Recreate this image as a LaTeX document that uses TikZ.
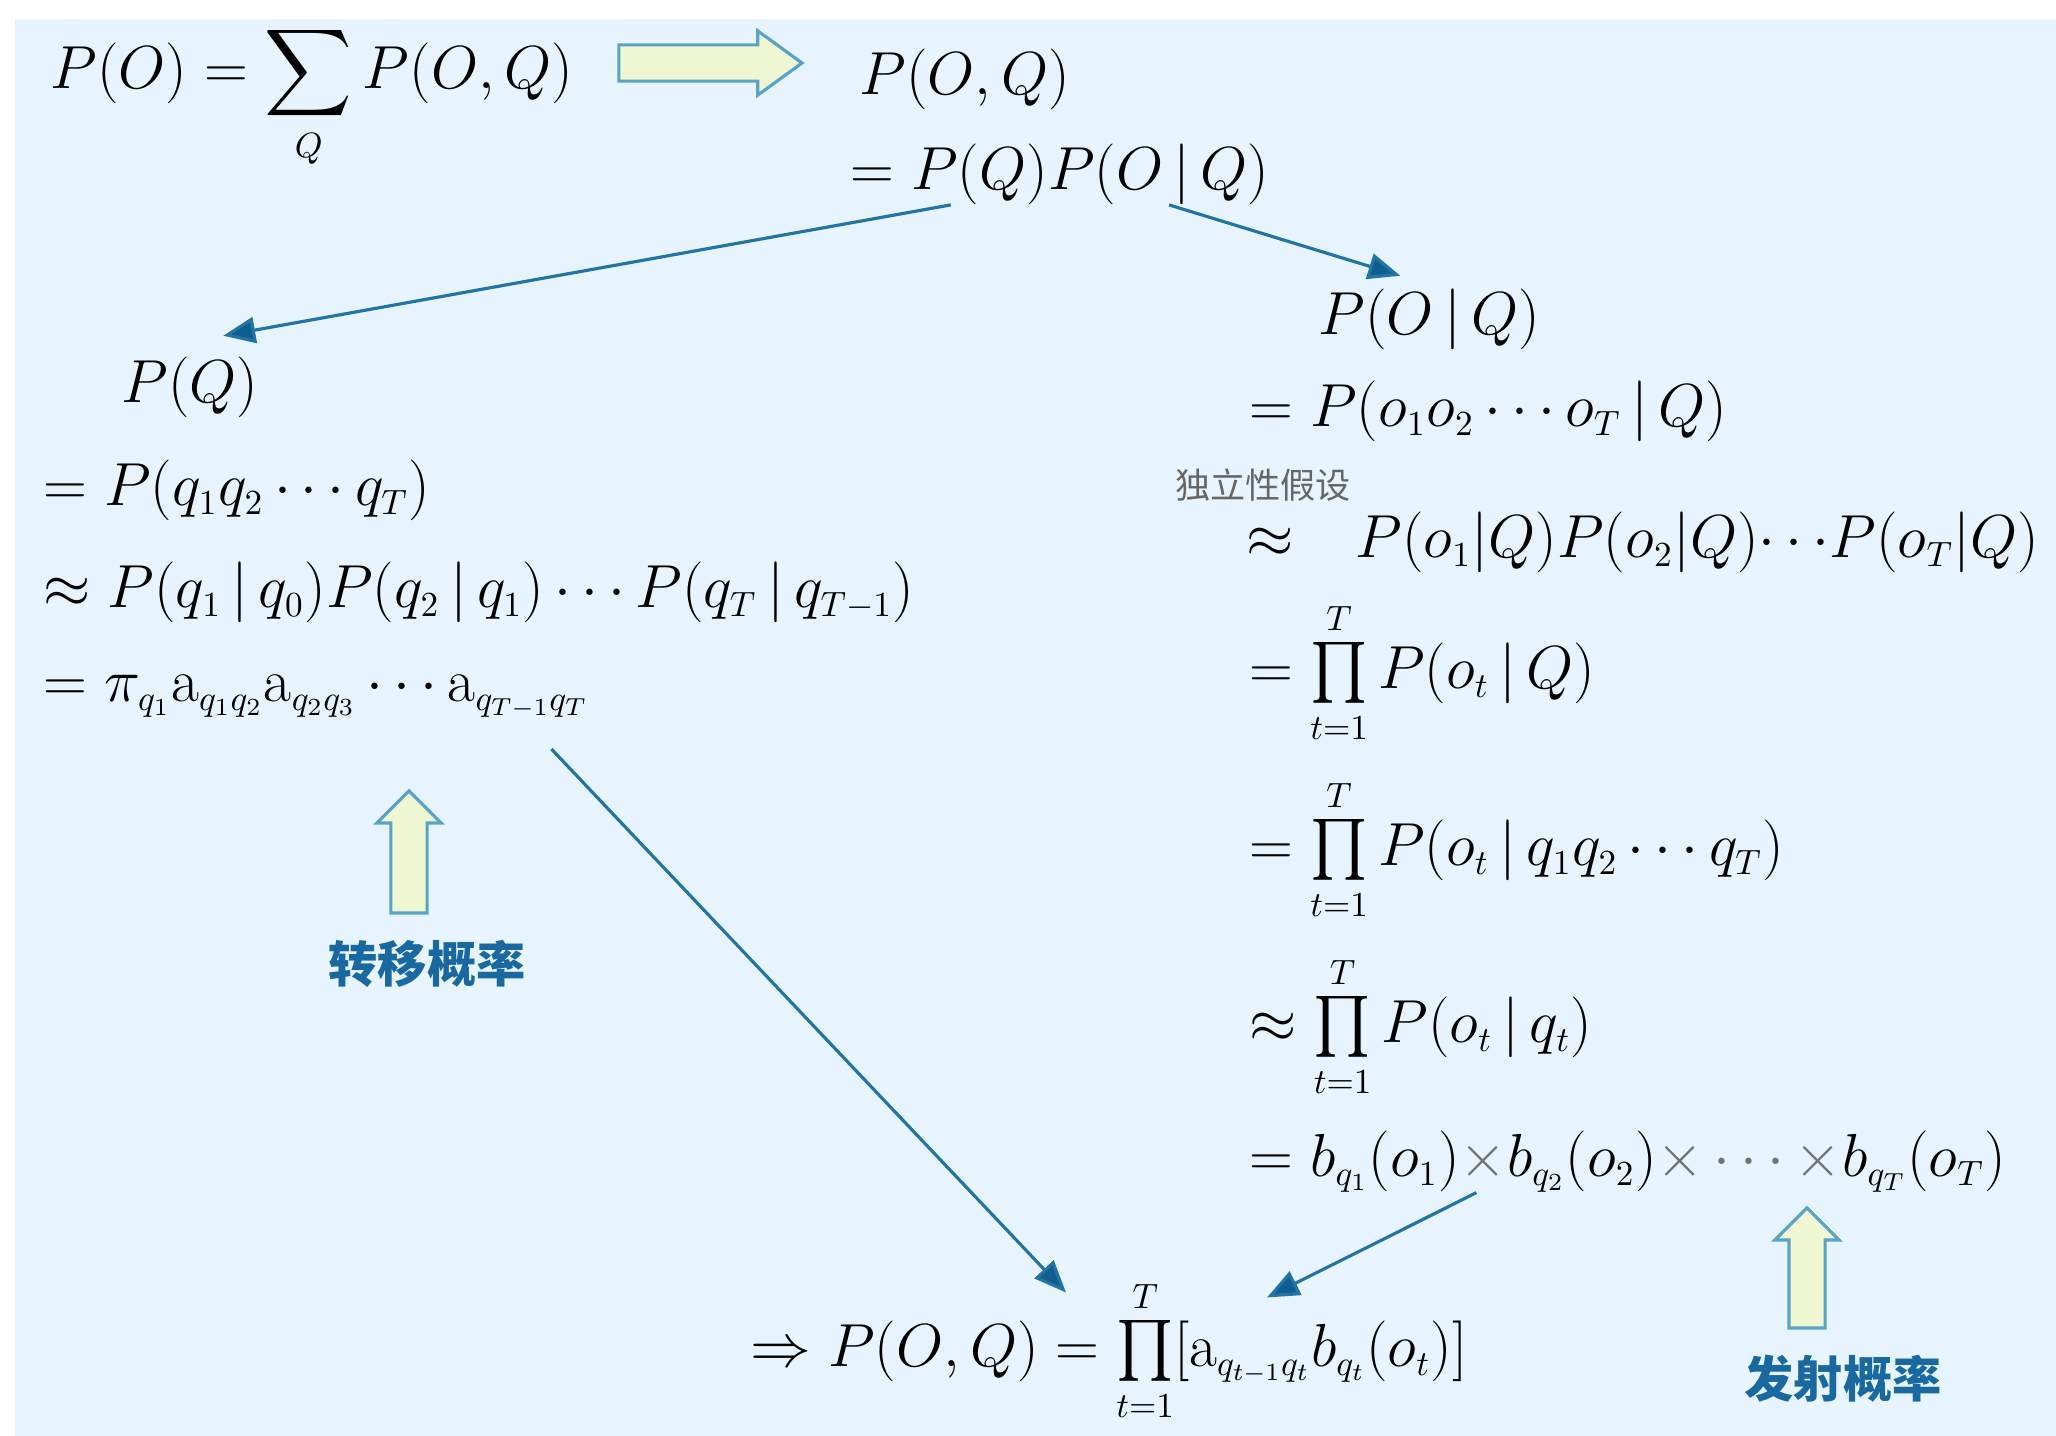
\documentclass[tikz,border=0pt]{standalone}
\usepackage{amsmath}
\usepackage{fontspec}
\newfontfamily\cjk{Noto Sans CJK SC}
\usetikzlibrary{arrows.meta, positioning, calc, shapes.arrows}
\DeclareMathSizes{17.28}{17.28}{10}{7}
\definecolor{hbg}{HTML}{E7F4FD}
\definecolor{hblue}{HTML}{2373A3}
\definecolor{hbluedark}{HTML}{0E5E8F}
\definecolor{hfill}{HTML}{EEF7D2}
\definecolor{hedge}{HTML}{5AA2C6}
\definecolor{hlabel}{HTML}{1A68A0}
\newcommand{\gv}{\,|\,}

\begin{document}
\begin{tikzpicture}[x=0.01cm, y=-0.01cm,
  eqn/.style={anchor=base west, inner sep=0pt, font=\fontsize{17.28}{20}\selectfont},
  flow/.style={draw=hblue, line width=0.9pt, -{Triangle[length=0.32cm, width=0.26cm, fill=hbluedark]}},
  hollow/.style={single arrow, draw=hedge, fill=hfill, line width=0.9pt, inner sep=0.165cm,
    single arrow head extend=0.14cm, single arrow tip angle=90},
  tag/.style={font=\cjk\bfseries\fontsize{14}{16}\selectfont, text=hlabel}]
\useasboundingbox (0,0) rectangle (2056,1436);
\fill[hbg] (15,19) rectangle (2056,1436);

% joint probability
\node[eqn] (po) at (50,88) {$\displaystyle P(O)=\sum_{Q}P(O,Q)$};
\node[hollow, minimum height=1.83cm, single arrow tip angle=72] (go) at (698,63) {};
\node[eqn] (poq) at (859,94) {$P(O,Q)$};
\node[eqn] (pj) at (850,189) {$=P(Q)P(O\gv Q)$};

% transition side
\node[eqn] (pq) at (121,402) {$P(Q)$};
\node[eqn] (q1) at (43,505) {$=P(q_1q_2\cdots q_T)$};
\node[eqn] (q2) at (43,607) {$\approx P(q_1\gv q_0)P(q_2\gv q_1)\cdots P(q_T\gv q_{T-1})$};
\node[eqn] (q3) at (43,701) {$=\pi_{q_1}\mathrm{a}_{q_1q_2}\mathrm{a}_{q_2q_3}\cdots\mathrm{a}_{q_{T-1}q_T}$};
\node[hollow, minimum height=1.22cm, shape border rotate=90] (upa) at (409,861) {};
\node[tag] (ta) at (427,964) {转移概率};

% emission side
\node[eqn] (poqr) at (1318,334) {$P(O\gv Q)$};
\node[eqn] (o1) at (1249,426) {$=P(o_1o_2\cdots o_T\gv Q)$};
\node[font=\cjk\fontsize{10}{12}\selectfont, text=black!60] (ind) at (1263,485) {独立性假设};
\node[eqn] (ap) at (1246,557) {$\approx$};
\node[eqn] (o2) at (1355,557) {$P(o_1|Q)P(o_2|Q){\cdots}P(o_T|Q)$};
\node[eqn] (o3) at (1249,688) {$=\prod\limits_{t=1}^{T}P(o_t\gv Q)$};
\node[eqn] (o4) at (1249,865) {$=\prod\limits_{t=1}^{T}P(o_t\gv q_1q_2\cdots q_T)$};
\node[eqn] (o5) at (1249,1042) {$\approx\prod\limits_{t=1}^{T}P(o_t\gv q_t)$};
\node[eqn] (bl) at (1249,1176) {$=b_{q_1}(o_1)\textcolor{black!55}{\times}b_{q_2}(o_2)\textcolor{black!55}{\times\cdots\times}b_{q_T}(o_T)$};
\node[hollow, minimum height=1.20cm, shape border rotate=90] (upb) at (1807,1277) {};
\node[tag] (tb) at (1843,1379) {发射概率};

% result
\node[eqn] (fin) at (750,1366) {$\Rightarrow P(O,Q)=\prod\limits_{t=1}^{T}[\mathrm{a}_{q_{t-1}q_t}b_{q_t}(o_t)]$};

\draw[flow] ($(pj.south west)!0.24!(pj.south east)$) -- ($(pq.north west)!0.74!(pq.north east)+(0,-20)$);
\draw[flow] ($(pj.south west)!0.76!(pj.south east)$) -- ($(poqr.north west)!0.37!(poqr.north east)+(0,-12)$);
\draw[flow] ($(q3.south west)!0.93!(q3.south east)+(0,30)$) -- ($(fin.north west)!0.44!(fin.north east)+(0,15)$);
\draw[flow] ($(bl.south west)!0.30!(bl.south east)$) -- ($(fin.north west)!0.72!(fin.north east)+(0,20)$);
\end{tikzpicture}
\end{document}
